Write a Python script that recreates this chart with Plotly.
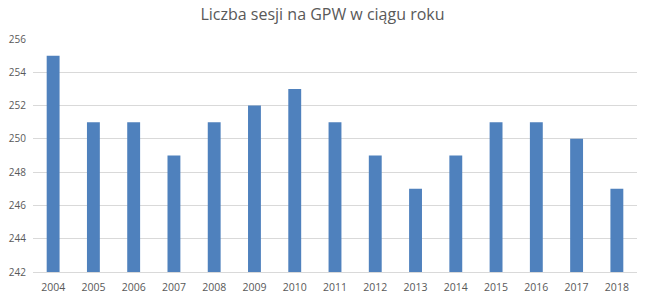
import plotly.graph_objects as go

years = ["2004", "2005", "2006", "2007", "2008", "2009", "2010", "2011",
         "2012", "2013", "2014", "2015", "2016", "2017", "2018"]
sessions = [255, 251, 251, 249, 251, 252, 253, 251, 249, 247, 249, 251, 251, 250, 247]
y_ticks = [242, 244, 246, 248, 250, 252, 254, 256]
y_base = 242

fig = go.Figure(go.Bar(
    x=years, y=[v - y_base for v in sessions], base=y_base,
    marker=dict(color="#4f81bd", line=dict(width=0)),
))

fig.update_layout(
    width=645, height=297,
    margin=dict(l=33, r=8, t=39, b=25),
    paper_bgcolor="white", plot_bgcolor="white",
    bargap=0.68,
    showlegend=False,
    title=dict(text="Liczba sesji na GPW w ciągu roku", x=0.5, xanchor="center",
               y=0.95, yanchor="middle",
               font=dict(family="Open Sans", size=16, color="#595959")),
    font=dict(family="Open Sans", size=10, color="#595959"),
)
fig.update_xaxes(type="category", showgrid=False, ticks="", showline=True,
                 linecolor="#d9d9d9", linewidth=1, ticklabelstandoff=5,
                 automargin=False, tickfont=dict(size=10.5))
fig.update_yaxes(range=[242, 256], tickvals=y_ticks, showgrid=True,
                 gridcolor="#d9d9d9", gridwidth=1, zeroline=False, ticks="",
                 automargin=False, ticklabelstandoff=6, tickfont=dict(size=10))

fig.write_html("out.html")
